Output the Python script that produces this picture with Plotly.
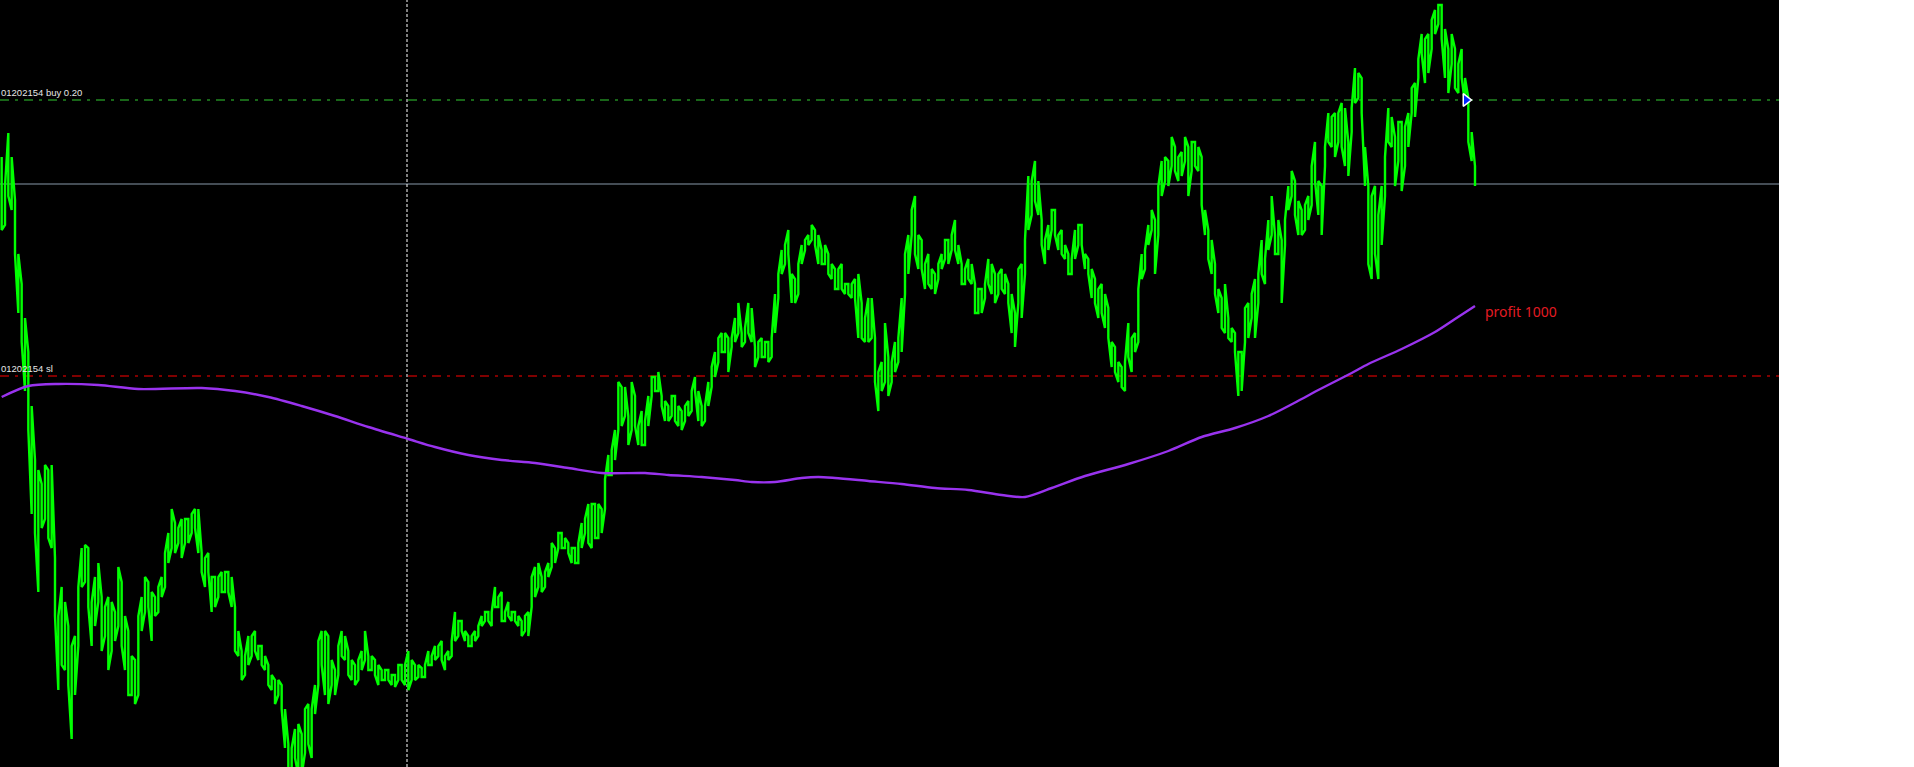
import plotly.graph_objects as go

# ---- price bars (one bar per bucket): high / low prices ----
bar_high = [
    843, 814, 867, 843, 800, 746, 716, 682, 648, 594, 540, 530, 516, 535, 530, 535, 442, 384, 413, 398,
    374, 354, 364, 413, 452, 455, 452, 398, 423, 437, 403, 393, 403, 398, 388, 433, 418, 384, 369, 344,
    340, 384, 403, 423, 418, 408, 403, 413, 423, 447, 467, 491, 477, 472, 481, 481, 481, 486, 491, 491,
    447, 442, 447, 423, 423, 423, 428, 428, 428, 423, 393, 369, 349, 344, 364, 364, 369, 354, 354, 344,
    335, 325, 320, 320, 315, 291, 256, 252, 271, 276,
    266, 291, 296, 291, 315, 359, 369, 369, 364, 340, 330, 354, 369, 364, 349, 340, 335, 340, 349, 369,
    344, 344, 340, 335, 330, 330, 330, 325, 325, 335, 335, 335, 349, 340, 335, 335, 332, 335, 349, 344,
    354, 354, 359, 344, 349, 359, 388, 379, 379, 369, 364, 364, 369, 374, 384, 388, 388, 388, 413, 403,
    408, 388, 398, 388, 388, 384, 379, 384, 388, 423, 433, 437, 423, 428, 437, 457, 452, 467, 467, 462,
    457, 452, 452, 457, 477, 481, 496, 496, 496, 496,
    491, 521, 545, 550, 570, 618, 613, 613, 584, 618, 604, 574, 589, 579, 604, 623, 623, 628, 604, 599,
    594, 604, 604, 594, 589, 594, 599, 609, 623, 609, 594, 594, 618, 633, 648, 662, 667, 667, 662, 662,
    682, 697, 667, 672, 697, 692, 653, 658, 662, 658, 658, 662, 706, 726, 750, 755, 770, 726, 721, 736,
    755, 760, 765, 775, 770, 765, 750, 755, 746, 736, 731, 731, 736, 716, 716, 716, 721, 726, 697, 682,
    702, 702, 662, 628, 638, 677, 643, 638, 658, 662,
    702, 746, 765, 790, 804, 765, 760, 736, 746, 731, 726, 736, 746, 760, 760, 765, 780, 755, 736, 731,
    741, 736, 716, 711, 711, 716, 741, 736, 726, 726, 731, 726, 716, 706, 687, 731, 736, 760, 824, 819,
    839, 819, 780, 760, 775, 790, 790, 765, 770, 755, 746, 741, 770, 775, 775, 746, 741, 731, 721, 711,
    716, 706, 692, 658, 653, 638, 633, 638, 677, 662, 667, 711, 746, 750, 775, 790, 780, 814, 839, 843,
    839, 863, 853, 843, 848, 863, 853, 858, 858, 853,
    843, 790, 770, 760, 736, 711, 702, 716, 682, 672, 667, 648, 648, 692, 697, 706, 721, 726, 760, 741,
    780, 804, 765, 780, 760, 780, 814, 829, 819, 799, 790, 795, 804, 834, 858, 819, 814, 853, 887, 883,
    887, 887, 897, 892, 858, 892, 932, 927, 922, 853, 814, 804, 814, 785, 814, 843, 892, 883, 863, 878,
    878, 873, 887, 912, 917, 941, 966, 961, 966, 980, 990, 995, 995, 971, 951, 966, 951, 936, 951, 922,
    902, 868, 834,
]
bar_low = [
    770, 775, 804, 790, 746, 687, 658, 609, 570, 486, 467, 408, 472, 481, 462, 452, 384, 310, 335, 330,
    315, 261, 305, 354, 413, 418, 393, 354, 374, 398, 349, 364, 330, 349, 359, 374, 354, 330, 305, 305,
    296, 305, 369, 388, 393, 359, 384, 388, 403, 413, 437, 452, 447, 457, 442, 457, 457, 467, 472, 447,
    428, 413, 428, 388, 393, 403, 408, 408, 408, 393, 349, 344, 320, 325, 335, 344, 349, 340, 335, 330,
    315, 310, 296, 305, 291, 252, 225, 225, 242, 225,
    225, 247, 256, 242, 286, 315, 335, 305, 296, 315, 305, 325, 344, 340, 325, 320, 315, 320, 330, 340,
    330, 330, 325, 315, 320, 320, 320, 315, 313, 320, 320, 315, 310, 320, 320, 323, 323, 323, 335, 335,
    340, 344, 340, 330, 340, 344, 359, 364, 369, 359, 354, 354, 359, 364, 374, 379, 379, 374, 393, 393,
    379, 379, 384, 379, 379, 374, 364, 369, 364, 393, 403, 413, 408, 413, 423, 433, 437, 452, 452, 452,
    447, 437, 437, 437, 452, 467, 457, 452, 462, 462,
    467, 491, 525, 525, 540, 570, 574, 584, 555, 570, 574, 555, 555, 555, 574, 604, 609, 609, 594, 579,
    579, 584, 579, 574, 570, 579, 584, 589, 609, 579, 574, 579, 594, 613, 623, 638, 648, 648, 628, 653,
    658, 667, 653, 658, 667, 658, 633, 643, 643, 643, 638, 643, 667, 702, 726, 736, 746, 697, 697, 706,
    736, 750, 755, 760, 755, 736, 736, 736, 726, 721, 711, 711, 711, 706, 706, 702, 702, 662, 662, 658,
    658, 662, 618, 589, 609, 618, 604, 618, 628, 638,
    648, 706, 726, 765, 746, 731, 731, 711, 716, 711, 706, 721, 731, 741, 736, 750, 750, 736, 716, 716,
    721, 716, 687, 687, 687, 702, 716, 706, 697, 706, 711, 706, 697, 667, 653, 697, 682, 726, 770, 785,
    799, 785, 755, 736, 750, 770, 765, 750, 746, 741, 726, 726, 741, 755, 755, 731, 726, 702, 697, 682,
    687, 672, 662, 633, 628, 618, 613, 609, 643, 628, 648, 658, 721, 731, 755, 770, 726, 765, 804, 819,
    814, 834, 829, 819, 824, 839, 804, 829, 834, 829,
    795, 765, 741, 726, 706, 687, 672, 667, 662, 658, 648, 604, 609, 658, 662, 682, 662, 697, 726, 716,
    750, 765, 746, 746, 697, 755, 790, 804, 785, 765, 765, 770, 780, 795, 819, 785, 765, 834, 858, 853,
    843, 858, 853, 834, 824, 868, 897, 902, 887, 814, 736, 721, 746, 721, 755, 804, 858, 853, 814, 839,
    809, 834, 853, 887, 883, 922, 946, 917, 927, 951, 966, 976, 961, 922, 907, 936, 912, 907, 922, 897,
    858, 839, 814,
]

# ---- moving average (sampled at bar indices) ----
ma_bar = [0, 8, 17, 29, 41, 60, 70, 80, 90, 100, 110, 122, 130, 140, 150, 160, 170, 180, 193, 200,
          210, 220, 225, 232, 240, 245, 250, 260, 270, 280, 290, 300, 307, 315, 325, 338, 350, 360, 370,
          380, 390, 395, 405, 410, 420, 430, 436, 442]
ma_val = [603, 614, 616, 615, 611, 612, 609, 603, 594, 584, 573, 561, 553, 545, 540, 537, 532, 527, 527,
          525, 523, 520, 518, 518, 522, 523, 522, 519, 516, 512, 510, 505, 503, 512, 524, 536, 549, 563,
          572, 584, 601, 610, 627, 636, 651, 668, 681, 694]

# ---- price levels ----
buy_price = 900
bid_price = 816
sl_price = 624
order_label = "01202154"
buy_text = order_label + " buy 0.20"
sl_text = order_label + " sl"
profit_text = "profit 1000"
cursor_bar = 121.6
entry_bar = 439.3
profit_bar = 444.5
profit_y = 689

# build vertical-stroke price path from high/low pairs
px, py = [], []
for i, (h, l) in enumerate(zip(bar_high, bar_low)):
    if i % 2 == 0:
        px += [i, i]
        py += [h, l]
    else:
        px += [i, i]
        py += [l, h]

fig = go.Figure()
fig.add_trace(go.Scatter(x=px, y=py, mode="lines",
                         line=dict(color="#00ff00", width=2.4), hoverinfo="skip"))
fig.add_trace(go.Scatter(x=ma_bar, y=ma_val, mode="lines",
                         line=dict(color="#9933ee", width=2.4, shape="spline", smoothing=0.8),
                         hoverinfo="skip"))
fig.add_trace(go.Scatter(x=[entry_bar], y=[buy_price], mode="markers",
                         marker=dict(symbol="triangle-right", size=11, color="#0022ff",
                                     line=dict(color="#ffffff", width=1.5)), hoverinfo="skip"))

dashdot = "9px,6px,3px,6px"
fig.add_shape(type="line", xref="paper", x0=0, x1=1, y0=buy_price, y1=buy_price,
              line=dict(color="#33cc33", width=1, dash=dashdot), layer="below")
fig.add_shape(type="line", xref="paper", x0=0, x1=1, y0=sl_price, y1=sl_price,
              line=dict(color="#ff0000", width=1, dash=dashdot), layer="below")
fig.add_shape(type="line", xref="paper", x0=0, x1=1, y0=bid_price, y1=bid_price,
              line=dict(color="#8899aa", width=1), layer="below")
fig.add_shape(type="line", yref="paper", x0=cursor_bar, x1=cursor_bar, y0=0, y1=1,
              line=dict(color="#ffffff", width=1, dash="3px,2px"), layer="below")

label_font = dict(family="Liberation Sans, Arial, sans-serif", size=9.5, color="#e6e6e6")
fig.add_annotation(xref="paper", x=0, y=buy_price, text=buy_text, showarrow=False,
                   xanchor="left", yanchor="bottom", yshift=0, xshift=-1, font=label_font)
fig.add_annotation(xref="paper", x=0, y=sl_price, text=sl_text, showarrow=False,
                   xanchor="left", yanchor="bottom", yshift=0, xshift=-1, font=label_font)
fig.add_annotation(x=profit_bar, y=profit_y, text=profit_text, showarrow=False,
                   xanchor="left", yanchor="middle",
                   font=dict(family="Noto Sans, Open Sans, sans-serif", size=14, color="#e31b23"))

fig.update_layout(
    width=1914, height=767,
    margin=dict(l=0, r=135, t=0, b=0),
    paper_bgcolor="#ffffff", plot_bgcolor="#000000",
    showlegend=False,
    xaxis=dict(range=[-0.5, 533.2], visible=False, showgrid=False, zeroline=False),
    yaxis=dict(range=[233, 1000], visible=False, showgrid=False, zeroline=False),
)

fig.write_html("out.html", config={"displayModeBar": False},
               post_script="document.body.style.margin='0';document.body.style.overflow='hidden';")
